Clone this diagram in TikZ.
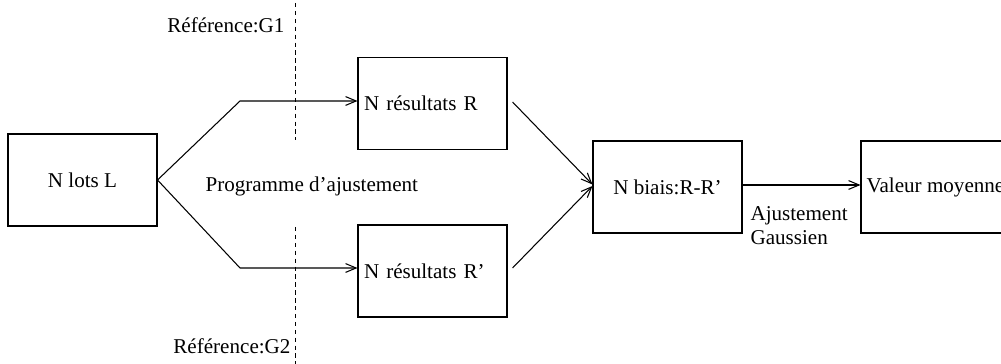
\documentclass[tikz,border=0pt]{standalone}
\usepackage{fontspec}
\setmainfont{Liberation Serif}
\usepackage{tikz}
\usetikzlibrary{positioning,arrows.meta}

\begin{document}
\begin{tikzpicture}[x=0.02cm,y=-0.02cm,>={Straight Barb[length=6pt,width=5pt]},
  line width=0.6pt,font=\fontsize{12}{13}\selectfont,
  box/.style={draw,minimum width=2.98cm,minimum height=1.84cm,inner sep=0pt},
  leftbox/.style={box,text width=2.74cm,align=left},
  refline/.style={dashed,dash pattern=on 2.5pt off 2pt,line width=0.5pt}]
\useasboundingbox (0,0) rectangle (1001,364);
\clip (0,0) rectangle (1001,364);
\node[box] (lots) at (82.5,180) {N lots L};
\node[leftbox] (r1) at (432.5,103.5) {N résultats R};
\node[leftbox] (r2) at (432.5,271) {N résultats R’};
\node[box] (biais) at (667.5,187) {N biais:R-R’};
\node[box] (valeur) at (935.5,187) {Valeur moyenne};
\coordinate (k1) at (240,101);
\coordinate (k2) at (240,268);
\coordinate (g1a) at (295,3);
\coordinate (g1b) at (295,140);
\coordinate (g2a) at (295,227);
\coordinate (g2b) at (295,364);
\node[anchor=east,inner sep=0pt] (ref1) at (285,25) {Référence:G1};
\node[anchor=east,inner sep=0pt] (ref2) at (291,346) {Référence:G2};
\node[anchor=west,inner sep=0pt] (prog) at (205,186) {Programme d’ajustement};
\node[anchor=north west,inner sep=0pt,align=left,font=\fontsize{12}{13.5}\selectfont] (gauss) at (750,206) {Ajustement\\Gaussien};
\draw[refline] (g1a) -- (g1b);
\draw[refline] (g2a) -- (g2b);
\draw[->] (lots.east) -- (k1) -- (k1 -| r1.west);
\draw[->] (lots.east) -- (k2) -- (k2 -| r2.west);
\draw[->] ([xshift=0.1cm,yshift=0.03cm]r1.east) -- ([yshift=0.05cm]biais.west);
\draw[->] ([xshift=0.1cm,yshift=0.06cm]r2.east) -- ([yshift=0.02cm]biais.west);
\draw[->] ([yshift=0.04cm]biais.east) -- ([yshift=0.04cm]valeur.west);
\end{tikzpicture}
\end{document}
